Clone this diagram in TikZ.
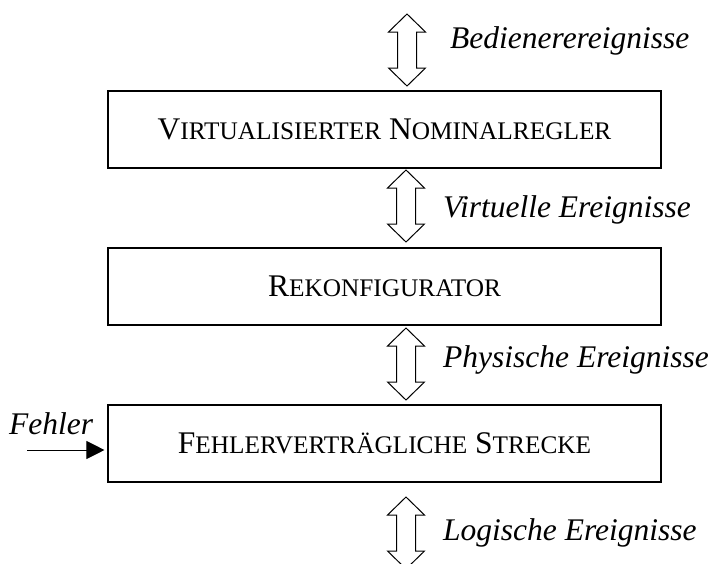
\documentclass[tikz,border=0pt]{standalone}
\usepackage{fontspec}
\setmainfont{Liberation Serif}
\usetikzlibrary{arrows.meta}
% faked small capitals: full-size initial, reduced-size capitals after it
\newcommand\bigc[1]{{\fontsize{31.5}{34}\selectfont #1}}
\newcommand\smc[1]{{\fontsize{25.3}{28}\selectfont #1}}
\tikzset{
  block/.style={draw, line width=1.1pt, minimum width=553pt, minimum height=77pt, inner sep=0pt},
  evlabel/.style={anchor=base west, inner sep=0pt, font=\fontsize{31.5}{34}\selectfont\itshape},
  pics/biarrow/.style={code={
    \draw[line width=1pt, line join=miter]
      (0,0) -- (18.5,18) -- (9.5,18) -- (9.5,54) -- (18.5,54) -- (0,72)
      -- (-18.5,54) -- (-9.5,54) -- (-9.5,18) -- (-18.5,18) -- cycle;}}
}
\begin{document}
\begin{tikzpicture}[x=1pt, y=-1pt]
  \useasboundingbox (0,0) rectangle (712,563);
  \clip (0,0) rectangle (712,563);

  % the three layers
  \node[block] (ctrl) at (384.5,129.5) {\bigc{V}\smc{IRTUALISIERTER}\bigc{ N}\smc{OMINALREGLER}};
  \node[block] (reconf) at (384.5,286.5) {\bigc{R}\smc{EKONFIGURATOR}};
  \node[block] (plant) at (384.5,443.5) {\bigc{F}\smc{EHLERVERTRÄGLICHE}\bigc{ S}\smc{TRECKE}};

  % event interfaces between the layers
  \coordinate (a1) at (407,14);
  \coordinate (a2) at (406,170);
  \coordinate (a3) at (406,328);
  \coordinate (a4) at (406,497);
  \pic at (a1) {biarrow};
  \pic at (a2) {biarrow};
  \pic at (a3) {biarrow};
  \pic at (a4) {biarrow};

  \node[evlabel] (l1) at (450,48) {Bedienerereignisse};
  \node[evlabel] (l2) at (443,217) {Virtuelle Ereignisse};
  \node[evlabel] (l3) at (443,367) {Physische Ereignisse};
  \node[evlabel] (l4) at (443,540) {Logische Ereignisse};

  % fault input
  \node[evlabel] (fault) at (9,434) {Fehler};
  \coordinate (fin) at (27,450);
  \draw[line width=1pt, shorten >=3pt, -{Triangle[length=18pt,width=18pt]}] (fin) -- (plant.west |- fin);
\end{tikzpicture}
\end{document}
